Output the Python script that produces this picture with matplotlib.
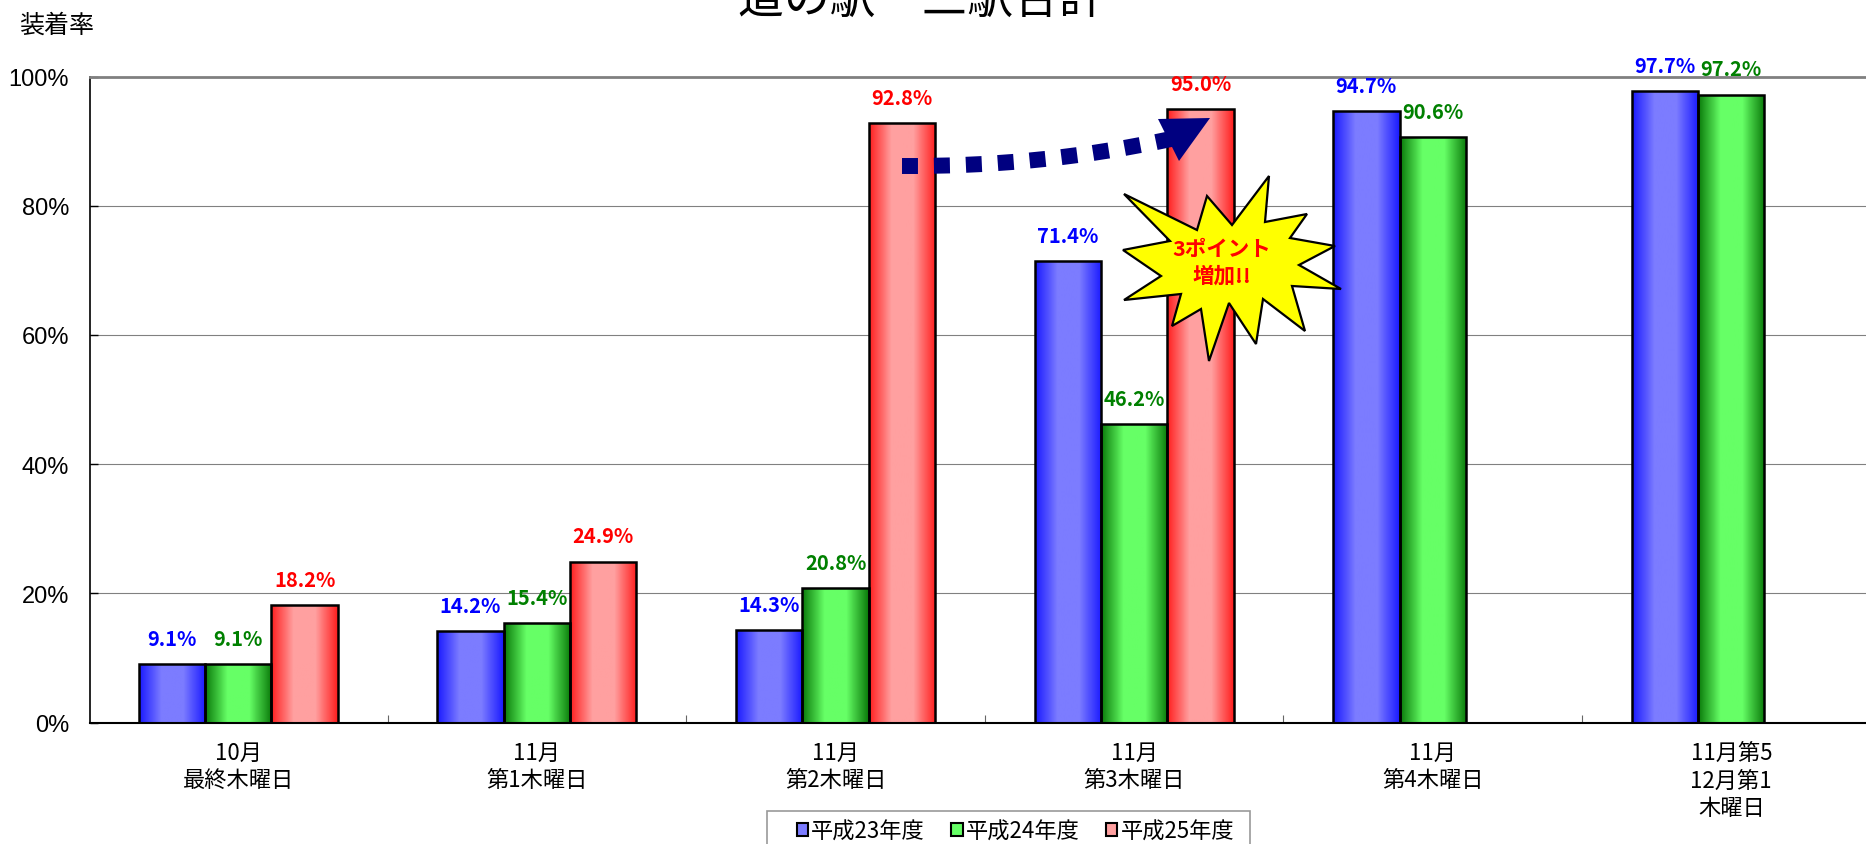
import numpy as np
import matplotlib
matplotlib.use("Agg")
import matplotlib.pyplot as plt
from matplotlib.patches import Patch, Polygon, PathPatch, Rectangle
from matplotlib.path import Path
from matplotlib.transforms import Affine2D

plt.rcParams['font.family'] = ['Noto Sans CJK JP', 'DejaVu Sans']

W, H = 1866, 845

categories = ['10月\n最終木曜日', '11月\n第1木曜日', '11月\n第2木曜日', '11月\n第3木曜日',
              '11月\n第4木曜日', '11月第5\n12月第1\n木曜日']
series_names = ['平成23年度', '平成24年度', '平成25年度']
h23 = [9.1, 14.2, 14.3, 71.4, 94.7, 97.7]
h24 = [9.1, 15.4, 20.8, 46.2, 90.6, 97.2]
h25 = [18.2, 24.9, 92.8, 95.0, np.nan, np.nan]
yticks = [0, 20, 40, 60, 80, 100]

#edge colour, centre colour, label colour for each series
styles = [('#1a1aff', '#7c7cff', '#0000ff'),
          ('#0a7a0a', '#66ff66', '#008000'),
          ('#ff1f1f', '#ffa0a0', '#ff0000')]

fig = plt.figure(figsize=(W / 100, H / 100), dpi=100, facecolor='white')
ax = fig.add_axes([90 / W, 1 - 723.5 / H, (W - 90) / W, (723.5 - 77.5) / H])

#pixel coordinates with the origin at top left, for the drawn-on shapes
px = Affine2D().scale(1, -1).translate(0, H)

bar_w = 1 / 4.5
x = np.arange(len(categories))
for i, vals in enumerate([h23, h24, h25]):
    edge_c, mid_c, label_c = styles[i]
    cmap = matplotlib.colors.LinearSegmentedColormap.from_list('g', [edge_c, mid_c, mid_c, edge_c])
    pos = x + (i - 1) * bar_w
    bars = ax.bar(pos, vals, bar_w, facecolor='none', edgecolor='black', linewidth=1.8, zorder=3)
    for b, v in zip(bars, vals):
        if np.isnan(v):
            continue
        #horizontal gradient inside the bar
        ax.imshow(np.linspace(0, 1, 64).reshape(1, -1), cmap=cmap, aspect='auto', zorder=2.5,
                  extent=(b.get_x(), b.get_x() + b.get_width(), 0, v))
        ax.annotate(f'{v:.1f}%', (b.get_x() + b.get_width() / 2, v), xytext=(0, 18.5),
                    textcoords='offset points', ha='center', va='center', color=label_c,
                    fontsize=14.5, fontweight='bold', zorder=6, annotation_clip=False)

ax.set_xlim(-0.5 + 1 / 298.6, -0.5 + (W - 89) / 298.6)
ax.set_ylim(0, 100)

ax.set_yticks(yticks)
ax.set_yticklabels([f'{t}%' for t in yticks], family='Liberation Sans', fontsize=17)
ax.tick_params(axis='y', direction='in', length=6, width=1, pad=15, color='black')
ax.yaxis.grid(True, color='#808080', linewidth=0.8, zorder=1)
ax.set_axisbelow(True)

ax.set_xticks(x)
ax.set_xticklabels(categories, fontsize=16, linespacing=1.27, va='top')
ax.tick_params(axis='x', which='major', length=0, pad=13)
ax.set_xticks(x[:-1] + 0.5, minor=True)
ax.tick_params(axis='x', which='minor', direction='in', length=6, width=0.8, color='#666666')

ax.spines['top'].set_color('#808080')
ax.spines['top'].set_linewidth(2)
ax.spines['right'].set_visible(False)
ax.spines['left'].set_linewidth(1.2)
ax.spines['bottom'].set_linewidth(1.5)

fig.text(921 / W, 1 - 13 / H, '道の駅　三駅合計', fontsize=33, ha='center', va='baseline', color='black')
fig.text(56.5 / W, 1 - 26 / H, '装着率', fontsize=18, ha='center', va='center', color='black')

#dashed arrow between the red bars
arrow_path = Path([(902, 167), (1040, 168), (1171, 140)], [Path.MOVETO, Path.CURVE3, Path.CURVE3])
fig.add_artist(PathPatch(arrow_path, transform=px, fill=False, edgecolor='#000080', linewidth=11.5,
                         linestyle=(0, (1, 1)), capstyle='butt', zorder=7))
fig.add_artist(Polygon([(1158, 120), (1210, 119), (1179, 162)], closed=True, transform=px,
                       facecolor='#000080', edgecolor='none', zorder=7))

#yellow burst callout
burst = [(1124, 195), (1170, 242), (1123, 251), (1161, 277), (1124, 301), (1181, 295), (1172, 327),
         (1201, 310), (1209, 362), (1229, 304), (1256, 345), (1263, 300), (1305, 332), (1292, 287),
         (1341, 290), (1299, 266), (1335, 247), (1290, 239), (1307, 215), (1265, 223), (1269, 177),
         (1232, 226), (1207, 197), (1197, 231)]
fig.add_artist(Polygon(burst, closed=True, transform=px, facecolor='#ffff00', edgecolor='black',
                       linewidth=1.6, joinstyle='miter', zorder=8))
fig.text(1222 / W, 1 - 263 / H, '3ポイント\n増加!!', fontsize=15.5, fontweight='bold', color='#ff0000',
         ha='center', va='center', linespacing=1.3, zorder=9)

#legend frame runs off the bottom of the picture
fig.add_artist(Rectangle((767, 812), 483, 60, transform=px, facecolor='white', edgecolor='#999999',
                         linewidth=1.2, zorder=4))
handles = [Patch(facecolor=s[1], edgecolor='black', linewidth=1.5) for s in styles]
leg = fig.legend(handles, series_names, ncol=3, loc='center', bbox_to_anchor=(1015.5 / W, 1 - 832 / H),
                 fontsize=16, frameon=False, handlelength=0.5, handleheight=0.5, handletextpad=0.15,
                 columnspacing=1.2, borderpad=0, borderaxespad=0)
leg.set_zorder(5)

fig.savefig('out.png', dpi=100)
